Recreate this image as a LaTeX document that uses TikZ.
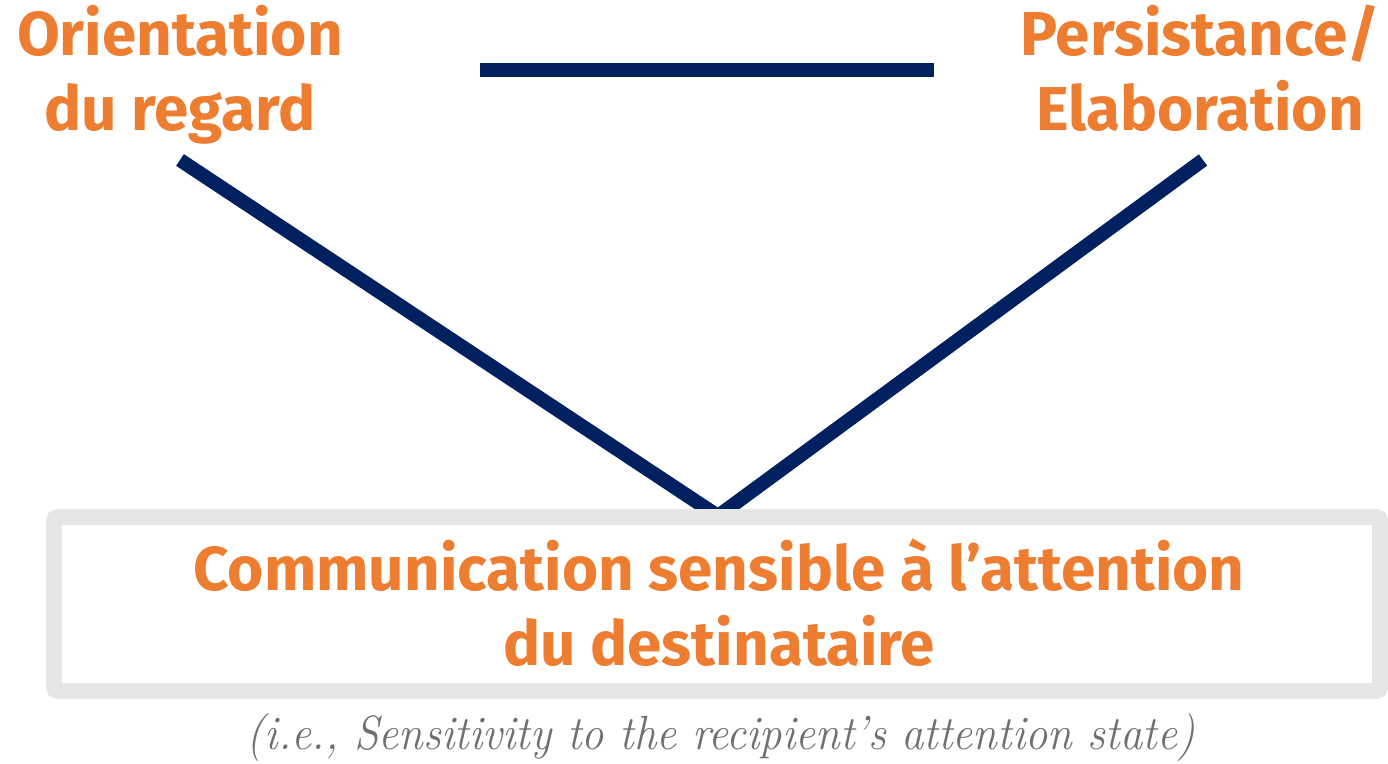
\documentclass[tikz,border=0pt]{standalone}
\usepackage{fontspec}
\setmainfont{Fira Sans}
\newfontfamily\notefont{Latin Modern Roman}[FakeStretch=0.93]
\definecolor{accent}{HTML}{ED7D31}
\definecolor{navy}{HTML}{002060}
\definecolor{frame}{HTML}{E6E6E6}
\definecolor{note}{HTML}{707070}
\begin{document}
\begin{tikzpicture}[x=1pt,y=-1pt,
  label text/.style={text=accent, font=\bfseries\fontsize{62}{75}\selectfont,
    align=center, inner sep=0pt, anchor=base},
  link/.style={draw=navy, line width=14pt},
  boxframe/.style={draw=frame, line width=16pt, rounded corners=4pt},
  note text/.style={text=note, font=\notefont\itshape\fontsize{48}{54}\selectfont,
    inner sep=0pt, anchor=base}]
  \useasboundingbox (0,0) rectangle (1388,763);
  % top labels (anchored on the baseline of their last line)
  \node[label text] (orient) at (180,130) {Orientation\\du regard};
  \node[label text] (persist) at (1200,130) {Persistance/\\Elaboration};
  % connector ends
  \coordinate (hl) at (480,70);
  \coordinate (hr) at (934,70);
  \coordinate (ls) at (180,160);
  \coordinate (rs) at (1203,160);
  \coordinate (apex) at (718,516);
  \draw[link] (hl) -- (hr);
  \draw[link] (ls) -- (apex);
  \draw[link] (rs) -- (apex);
  % bottom box
  \draw[boxframe, fill=white] (54,517) rectangle (1380,691);
  \node[label text] (comm) at (719,665) {Communication sensible à l’attention\\du destinataire};
  \node[note text] (gloss) at (721,749) {(i.e., Sensitivity to the recipient’s attention state)};
\end{tikzpicture}
\end{document}
